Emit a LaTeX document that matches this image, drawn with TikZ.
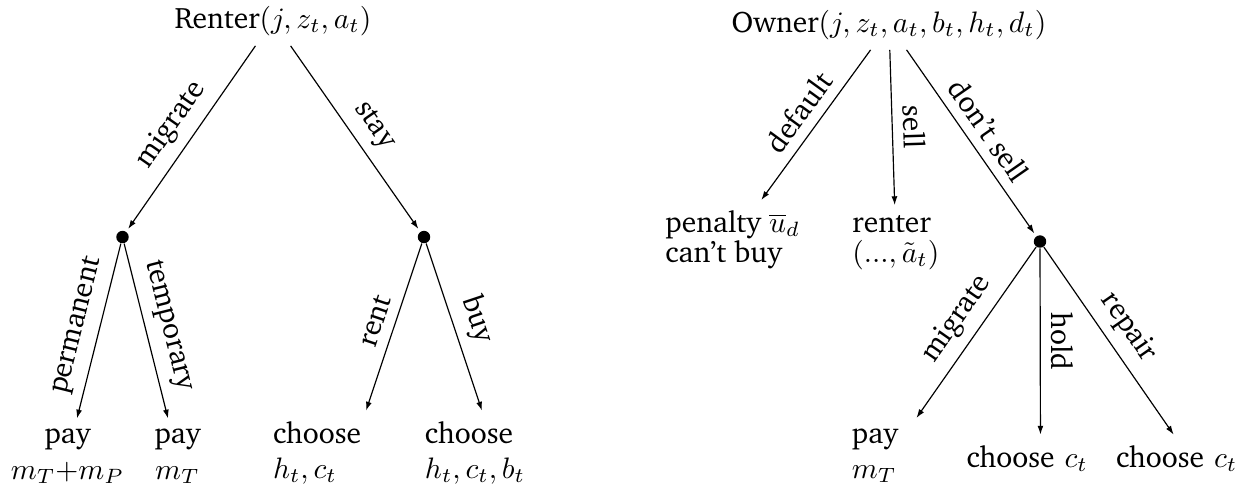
\documentclass[tikz,border=0pt]{standalone}
\usepackage[T1]{fontenc}
\usepackage{charter}
\usetikzlibrary{arrows.meta}
\tikzset{
  dotnode/.style={circle,fill=black,inner sep=0pt,minimum size=4.2pt},
  edgeline/.style={draw,line width=0.4pt,-{Latex[length=3pt,width=2pt]}},
  todot/.style={edgeline,shorten >=1pt},
  lbl/.style={midway,sloped,above},
  stack/.style={anchor=base,align=center},
  lstack/.style={anchor=base,align=left},
  tstack/.style={anchor=base west,align=left},
}
\begin{document}
\begin{tikzpicture}[x=0.338pt,y=-0.338pt]
\useasboundingbox (0,0) rectangle (1250,491);
% ---------- Renter tree ----------
\node[anchor=base] (renter) at (273,28) {Renter$(j, z_t, a_t)$};
\node[dotnode] (dL) at (122.5,237) {};
\node[dotnode] (dR) at (424,237) {};
\node[stack] (pay1) at (67.5,479) {pay\\$m_T{+}m_P$};
\node[stack] (pay2) at (177.5,479) {pay\\$m_T$};
\node[lstack,text width=53.4pt] (ch1) at (352,443) {choose\\$h_t, c_t$};
\node[lstack,text width=48pt] (ch2) at (496,443) {choose\\$h_t, c_t, b_t$};
\draw[todot] (renter) -- node[lbl]{migrate} (dL);
\draw[todot] (renter) -- node[lbl]{stay} (dR);
\draw[edgeline] (dL) -- node[lbl]{permanent} (pay1);
\draw[edgeline] (dL) -- node[lbl]{temporary} (pay2);
\draw[edgeline] (dR) -- node[lbl]{rent} (ch1);
\draw[edgeline] (dR) -- node[lbl]{buy} (ch2);
% ---------- Owner tree ----------
\node[anchor=base] (owner) at (889,32) {Owner$(j, z_t, a_t, b_t, h_t, d_t)$};
\node[tstack] (pen) at (655,262) {penalty $\overline{u}_d$\\[-2pt]can't buy};
\node[tstack] (rnt) at (842,262) {renter\\[-2pt]$(...,\tilde{a}_t)$};
\node[dotnode] (dO) at (1040,241.5) {};
\node[lstack,text width=25.7pt] (pay3) at (890,443) {pay\\$m_T$};
\node[lstack,text width=50pt] (ch3) at (1040.5,467) {choose $c_t$};
\node[lstack,text width=50pt] (ch4) at (1190,467) {choose $c_t$};
\draw[edgeline] (owner) -- node[lbl]{default} (pen);
\draw[edgeline] (owner) -- node[lbl]{sell} (rnt);
\draw[todot] (owner) -- node[lbl]{don't sell} (dO);
\draw[edgeline] (dO) -- node[lbl]{migrate} (pay3);
\draw[edgeline] (dO) -- node[lbl]{hold} (ch3);
\draw[edgeline] (dO) -- node[lbl]{repair} (ch4);
\end{tikzpicture}
\end{document}
